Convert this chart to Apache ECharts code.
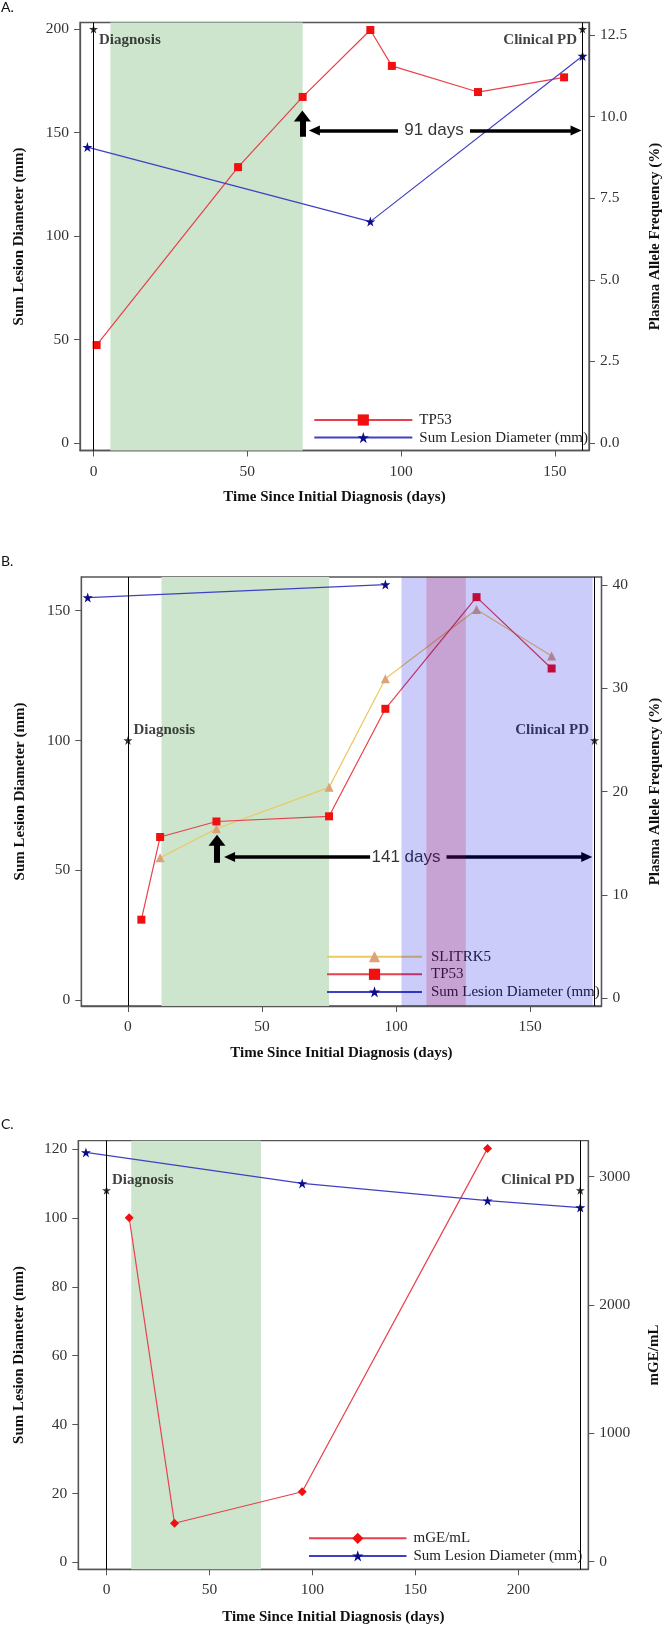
<!DOCTYPE html>
<html><head><meta charset="utf-8">
<script src="https://cdn.jsdelivr.net/npm/echarts@6/dist/echarts.min.js"></script>
<style>html,body{margin:0;padding:0;background:#fff}#c{width:671px;height:1633px}</style>
</head><body><div id="c"></div>
<script>
// ================= DATA =================
// Panel A
const aTp53Days = [1, 47, 68, 90, 97, 125, 153];
const aTp53Vaf  = [3.0, 8.45, 10.6, 12.65, 11.55, 10.75, 11.2];
const aSldDays  = [-2, 90, 159];
const aSldMm    = [143, 107, 187];
const aEventDays  = [0, 159];
const aEventNames = ['Diagnosis', 'Clinical PD'];
const aEventLevel = 200;
const aTreatment  = [5.5, 68];
const aArrowLabel = '91 days';
const aArrowUp    = [67.9, 148, 158];          // day, from, to (left axis units)
const aArrowY     = 151;
const aArrowLeft  = [71.8, 99];
const aArrowRight = [122.4, 156.9];
const aArrowTextDay = 110.7;
const aXTicks  = [0, 50, 100, 150];
const aYLTicks = [0, 50, 100, 150, 200];
const aYRTicks = [0, 2.5, 5, 7.5, 10, 12.5];

// Panel B
const bSlitDays = [12, 33, 75, 96, 130, 158];
const bSlitVaf  = [13.6, 16.4, 20.4, 30.9, 37.6, 33.1];
const bTp53Days = [5, 12, 33, 75, 96, 130, 158];
const bTp53Vaf  = [7.6, 15.6, 17.1, 17.6, 28.0, 38.8, 31.9];
const bSldDays  = [-15, 96];
const bSldMm    = [155, 160];
const bEventDays  = [0, 174];
const bEventNames = ['Diagnosis', 'Clinical PD'];
const bEventLevel = 100;
const bTreatment  = [12.5, 75];
const bProgBand   = [102, 173.3];
const bProgBand2  = [111.3, 126];
const bArrowLabel = '141 days';
const bArrowUp    = [33.2, 52.9, 61.6];
const bArrowY     = 55.1;
const bArrowLeft  = [37.9, 90.3];
const bArrowRight = [118.8, 171.1];
const bArrowTextDay = 103.7;
const bXTicks  = [0, 50, 100, 150];
const bYLTicks = [0, 50, 100, 150];
const bYRTicks = [0, 10, 20, 30, 40];

// Panel C
const cMgeDays = [11, 33, 95, 185];
const cMge     = [2680, 300, 545, 3220];
const cSldDays = [-10, 95, 185, 230];
const cSldMm   = [119, 110, 105, 103];
const cEventDays  = [0, 230];
const cEventNames = ['Diagnosis', 'Clinical PD'];
const cEventLevel = 108;
const cTreatment  = [12, 75];
const cXTicks  = [0, 50, 100, 150, 200];
const cYLTicks = [0, 20, 40, 60, 80, 100, 120];
const cYRTicks = [0, 1000, 2000, 3000];

// ================= STYLE =================
const SERIF = '"Liberation Serif","Times New Roman",serif';
const SANS = '"Liberation Sans",Arial,sans-serif';
const STAR = 'path://M50,0L61.2,34.5L97.6,34.5L68.2,55.9L79.4,90.5L50,69.1L20.6,90.5L31.8,55.9L2.4,34.5L38.8,34.5Z';
const AX = '#555';
const RED_LINE = '#e8404c', RED_MK = '#f01010';
const BLUE_LINE = '#4040c4', BLUE_MK = '#0c0c8a';
const YEL_LINE = '#ecc860', TAN_MK = '#dca27c';
const GREEN = '#cce5cc';
const LSLD = 'Sum Lesion Diameter (mm)';

const xy = (d, v) => d.map((x, i) => [x, v[i]]);

function xAx(gi, min, max, ticks, gap) {
  return {type: 'value', gridIndex: gi, min, max,
    name: 'Time Since Initial Diagnosis (days)', nameLocation: 'middle', nameGap: gap,
    nameTextStyle: {fontFamily: SERIF, fontWeight: 'bold', fontSize: 15, color: '#111'},
    axisLine: {show: true, onZero: false, lineStyle: {color: AX, width: 1.3}},
    axisTick: {show: true, customValues: ticks, length: 6, lineStyle: {color: AX, width: 1}},
    axisLabel: {show: true, customValues: ticks, margin: 13, fontFamily: SERIF, fontSize: 15.5, color: '#333'},
    splitLine: {show: false}};
}
function yAx(gi, pos, min, max, ticks, name, gap, fmt) {
  return {type: 'value', gridIndex: gi, position: pos, min, max,
    name, nameLocation: 'middle', nameGap: gap, nameRotate: 90,
    nameTextStyle: {fontFamily: SERIF, fontWeight: 'bold', fontSize: 15, color: '#111'},
    axisLine: {show: true, onZero: false, lineStyle: {color: AX, width: 1.3}},
    axisTick: {show: true, customValues: ticks, length: 6, lineStyle: {color: AX, width: 1}},
    axisLabel: {show: true, customValues: ticks, margin: 11, fontFamily: SERIF, fontSize: 15.5, color: '#333',
      formatter: fmt || (v => String(v))},
    splitLine: {show: false}};
}
function lineS(name, xi, yi, data, symbol, size, mk, ln) {
  return {name, type: 'line', xAxisIndex: xi, yAxisIndex: yi, data, symbol, symbolSize: size,
    itemStyle: {color: mk}, lineStyle: {color: ln, width: 1.2}, z: 3, showSymbol: true};
}
function eventS(xi, yi, days, names, level, dy) {
  return {name: 'events' + xi, type: 'scatter', xAxisIndex: xi, yAxisIndex: yi, z: 4,
    symbol: STAR, symbolSize: 9, itemStyle: {color: '#000'},
    data: days.map((d, i) => ({value: [d, level], label: {show: true, formatter: names[i],
      position: i === 0 ? 'right' : 'left', distance: 1, offset: [0, dy],
      fontFamily: SERIF, fontWeight: 'bold', fontSize: 15, color: '#111'}})),
    markLine: {silent: true, symbol: 'none', label: {show: false}, animation: false,
      lineStyle: {color: '#000', width: 1, type: 'solid'},
      data: days.map(d => ({xAxis: d}))}};
}
function bandS(xi, yi, ranges, color, z) {
  return {name: 'band' + xi + '_' + z, type: 'line', xAxisIndex: xi, yAxisIndex: yi, data: [],
    markArea: {silent: true, z: z, itemStyle: {color: color, borderWidth: 0}, label: {show: false},
      data: ranges.map(r => [{xAxis: r[0]}, {xAxis: r[1]}])}};
}
function arrowS(xi, yi, up, y, left, right, textDay, text) {
  return [
    {name: 'arrH' + xi, type: 'line', xAxisIndex: xi, yAxisIndex: yi, data: [], z: 5,
      markLine: {silent: true, label: {show: false}, animation: false, symbolSize: [10, 11],
        lineStyle: {color: '#000', width: 3.5, type: 'solid'},
        data: [
          [{coord: [left[0], y], symbol: 'triangle'}, {coord: [left[1], y], symbol: 'none'}],
          [{coord: [right[0], y], symbol: 'none'}, {coord: [right[1], y], symbol: 'triangle'}]
        ]}},
    {name: 'arrU' + xi, type: 'line', xAxisIndex: xi, yAxisIndex: yi, data: [], z: 5,
      markLine: {silent: true, label: {show: false}, animation: false, symbolSize: [17, 11],
        lineStyle: {color: '#000', width: 6, type: 'solid'},
        data: [[{coord: [up[0], up[1]], symbol: 'none'}, {coord: [up[0], up[2]], symbol: 'triangle'}]]}},
    {name: 'arrT' + xi, type: 'scatter', xAxisIndex: xi, yAxisIndex: yi, z: 6, symbolSize: 1,
      itemStyle: {color: 'rgba(0,0,0,0)'},
      data: [[textDay, y]],
      label: {show: true, position: 'inside', formatter: text, fontFamily: SANS, fontSize: 17,
        color: '#000', textBorderWidth: 0, textShadowBlur: 0}}
  ];
}
function legendC(names, left, top, iw, pad) {
  return {data: names, orient: 'vertical', left, top, itemWidth: iw, itemHeight: 14, itemGap: 2.6,
    padding: 0, selectedMode: false,
    textStyle: {fontFamily: SERIF, fontSize: 15, color: '#222', padding: [0, 0, 0, pad]}};
}

const chart = echarts.init(document.getElementById('c'), null, {renderer: 'canvas', width: 671, height: 1633});

const option = {
  animation: false,
  backgroundColor: '#fff',
  title: [
    {text: 'A.', left: 1, top: 0, padding: 0, textStyle: {fontFamily: 'Lato', fontSize: 14, fontWeight: 'normal', color: '#111'}},
    {text: 'B.', left: 1, top: 554, padding: 0, textStyle: {fontFamily: 'Lato', fontSize: 14, fontWeight: 'normal', color: '#111'}},
    {text: 'C.', left: 1, top: 1117, padding: 0, textStyle: {fontFamily: 'Lato', fontSize: 14, fontWeight: 'normal', color: '#111'}}
  ],
  grid: [
    {left: 80, top: 22.5, width: 513.5, height: 428, show: true, borderColor: AX, borderWidth: 1.3, containLabel: false},
    {left: 81.3, top: 577, width: 524.5, height: 429, show: true, borderColor: AX, borderWidth: 1.3, containLabel: false},
    {left: 78.3, top: 1140.7, width: 510, height: 428.6, show: true, borderColor: AX, borderWidth: 1.3, containLabel: false}
  ],
  xAxis: [
    xAx(0, -4.4, 161.1, aXTicks, 39),
    xAx(1, -17.4, 176.6, bXTicks, 40),
    xAx(2, -13.7, 233.9, cXTicks, 40)
  ],
  yAxis: [
    yAx(0, 'left', -3.6, 203.2, aYLTicks, LSLD, 53),
    yAx(0, 'right', -0.23, 12.88, aYRTicks, 'Plasma Allele Frequency (%)', 59, v => v.toFixed(1)),
    yAx(1, 'left', -2.2, 162.9, bYLTicks, LSLD, 54),
    yAx(1, 'right', -0.75, 40.75, bYRTicks, 'Plasma Allele Frequency (%)', 46.5),
    yAx(2, 'left', -2.0, 122.4, cYLTicks, LSLD, 52),
    yAx(2, 'right', -59, 3280, cYRTicks, 'mGE/mL', 58.5)
  ],
  legend: [
    legendC(['TP53', LSLD], 313.3, 412.5, 98, 2),
    legendC(['SLITRK5', 'TP53', LSLD], 326, 949.2, 95, 4),
    legendC(['mGE/mL', LSLD], 308, 1530.8, 97.5, 2)
  ],
  series: [
    // Panel A
    bandS(0, 0, [aTreatment], GREEN, 1),
    lineS('TP53', 0, 1, xy(aTp53Days, aTp53Vaf), 'rect', 8, RED_MK, RED_LINE),
    lineS(LSLD, 0, 0, xy(aSldDays, aSldMm), STAR, 10, BLUE_MK, BLUE_LINE),
    eventS(0, 0, aEventDays, aEventNames, aEventLevel, 11),
    ...arrowS(0, 0, aArrowUp, aArrowY, aArrowLeft, aArrowRight, aArrowTextDay, aArrowLabel),
    // Panel B
    bandS(1, 2, [bTreatment], GREEN, 1),
    lineS('SLITRK5', 1, 3, xy(bSlitDays, bSlitVaf), 'triangle', 9, TAN_MK, YEL_LINE),
    lineS('TP53', 1, 3, xy(bTp53Days, bTp53Vaf), 'rect', 8, RED_MK, RED_LINE),
    lineS(LSLD, 1, 2, xy(bSldDays, bSldMm), STAR, 10, BLUE_MK, BLUE_LINE),
    eventS(1, 2, bEventDays, bEventNames, bEventLevel, -10),
    ...arrowS(1, 2, bArrowUp, bArrowY, bArrowLeft, bArrowRight, bArrowTextDay, bArrowLabel),
    bandS(1, 2, [bProgBand], 'rgba(0,0,230,0.2)', 10),
    bandS(1, 2, [bProgBand2], 'rgba(180,0,60,0.2)', 11),
    // Panel C
    bandS(2, 4, [cTreatment], GREEN, 1),
    lineS('mGE/mL', 2, 5, xy(cMgeDays, cMge), 'diamond', 9, RED_MK, RED_LINE),
    lineS(LSLD, 2, 4, xy(cSldDays, cSldMm), STAR, 10, BLUE_MK, BLUE_LINE),
    eventS(2, 4, cEventDays, cEventNames, cEventLevel, -10)
  ]
};
chart.setOption(option);
</script>
</body></html>
